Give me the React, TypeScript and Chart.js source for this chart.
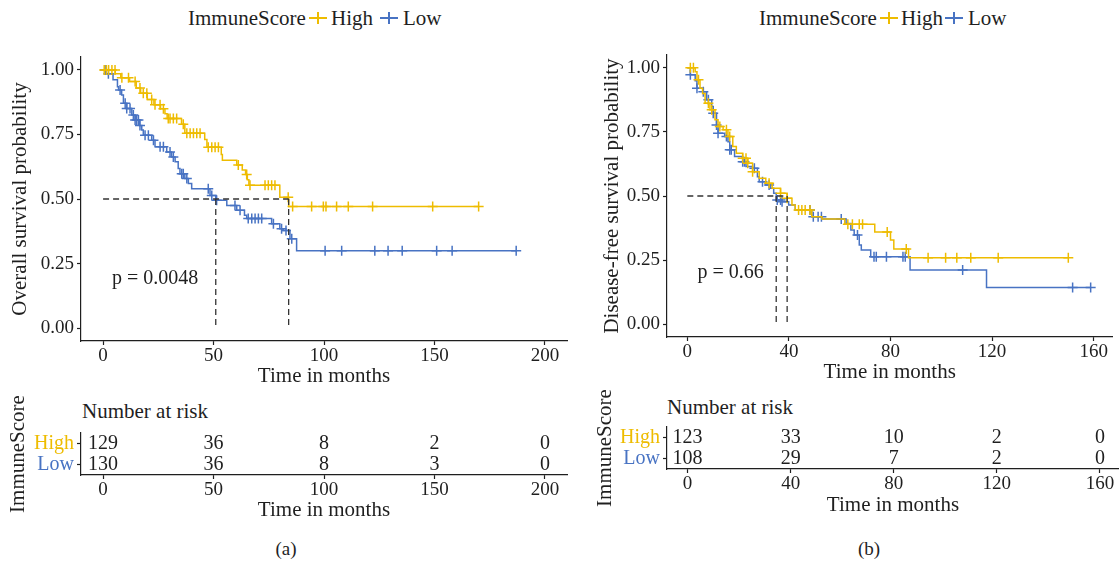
import React, { useEffect, useRef } from 'react';
import { Chart, registerables } from 'chart.js';

Chart.register(...registerables);

const FONT = "'Liberation Serif', 'Times New Roman', Times, serif";
const INK = '#1f1f1f';
const HIGH_COLOR = '#EEBC00';
const LOW_COLOR = '#4873C3';
const GROUPS = ['High', 'Low'];

// ---------- (a) Overall survival ----------
const osHighTimes = [0, 5.5, 8, 12, 15, 17, 20, 23, 26, 28, 29, 35.5, 37, 46, 47, 53.5, 54, 60.5, 63, 64.5, 65.3, 66, 80, 84, 170];
const osHighSurv = [1.0, 0.985, 0.97, 0.955, 0.93, 0.91, 0.885, 0.865, 0.85, 0.83, 0.812, 0.79, 0.755, 0.73, 0.7, 0.672, 0.65, 0.632, 0.612, 0.595, 0.575, 0.553, 0.507, 0.471, 0.471];
const osHighCensor = [0.5, 1.5, 2.5, 4, 5.4, 8.5, 11.5, 14.5, 16.7, 18.2, 19.8, 22, 23.5, 25.8, 27.3, 29.5, 30.3, 31.8, 33.3, 36.3, 37.9, 39.4, 40.9, 42.4, 43.9, 47.6, 49.2, 50.7, 52.2, 61.2, 65, 66.5, 73.3, 74.8, 76.3, 77.8, 83.8, 85.8, 94.4, 99.7, 100.9, 105.7, 111, 122, 149.2, 170];

const osLowTimes = [0, 1, 4.5, 6.5, 7, 8.4, 9.2, 10.7, 13, 14.5, 16.5, 17.5, 18.2, 22, 23.5, 28.8, 31, 32.6, 34, 34.8, 37, 38.6, 40.1, 48.4, 51, 56, 60.5, 64, 65, 76.3, 80, 81.5, 84.6, 87.6, 187];
const osLowSurv = [1.0, 0.985, 0.962, 0.935, 0.922, 0.903, 0.871, 0.851, 0.825, 0.806, 0.785, 0.767, 0.747, 0.728, 0.702, 0.682, 0.663, 0.644, 0.618, 0.598, 0.579, 0.56, 0.54, 0.514, 0.495, 0.475, 0.456, 0.437, 0.424, 0.404, 0.385, 0.378, 0.346, 0.3, 0.3];
const osLowCensor = [0.9, 2.4, 7.7, 10, 10.7, 12.2, 13.7, 14.5, 15.2, 16, 16.7, 19, 20.5, 22.8, 25.8, 27.3, 30.3, 31.8, 35.6, 36.3, 37.9, 47.6, 49.2, 51.4, 59.7, 62, 65.7, 67.3, 68.8, 70.3, 71.8, 77.1, 80.8, 82.8, 85.4, 100.5, 108, 123, 129, 135.4, 151, 158, 187];

const osMedians = [51, 84];
const osTicks = [0, 50, 100, 150, 200];
const osRiskHigh = [129, 36, 8, 2, 0];
const osRiskLow = [130, 36, 8, 3, 0];
const osPText = 'p = 0.0048';

// ---------- (b) Disease-free survival ----------
const dfsHighTimes = [0, 3.1, 3.8, 5, 6, 7, 8.9, 10.9, 12.1, 14.1, 16, 17.9, 19.3, 21.8, 23.8, 25.7, 28.3, 30.9, 33.4, 36.7, 39.3, 41.2, 42.5, 49, 53, 62, 73.8, 80, 81.3, 87.1, 150];
const dfsHighSurv = [1.0, 0.985, 0.953, 0.92, 0.9, 0.862, 0.836, 0.797, 0.771, 0.758, 0.732, 0.693, 0.667, 0.647, 0.628, 0.595, 0.569, 0.55, 0.53, 0.511, 0.491, 0.465, 0.445, 0.419, 0.41, 0.39, 0.36, 0.328, 0.293, 0.259, 0.259];
const dfsHighCensor = [1.2, 2.4, 4.4, 8.3, 9.6, 12.8, 15.4, 16.7, 21.8, 23.1, 23.8, 25.7, 32.2, 36.7, 39.3, 43.8, 45.1, 46.4, 48.3, 63.2, 65, 67.7, 69, 78.7, 86.2, 94.8, 101.7, 106.1, 111.6, 122.4, 150];

const dfsLowTimes = [0, 1.2, 3.1, 3.8, 6.3, 7.6, 9.6, 10.2, 11.5, 12.1, 14.7, 16, 16.7, 18.6, 21.8, 23.1, 25.7, 27.6, 28.3, 30.9, 32.8, 34, 35, 37.3, 39.9, 42.5, 49, 53, 62.5, 64.4, 65.7, 67.7, 68.5, 72.2, 87.7, 117.8, 158.8];
const dfsLowSurv = [1.0, 0.973, 0.95, 0.92, 0.907, 0.875, 0.849, 0.823, 0.777, 0.745, 0.732, 0.712, 0.68, 0.654, 0.634, 0.615, 0.608, 0.575, 0.556, 0.543, 0.53, 0.511, 0.484, 0.478, 0.465, 0.445, 0.419, 0.41, 0.393, 0.367, 0.348, 0.309, 0.289, 0.263, 0.211, 0.143, 0.143];
const dfsLowCensor = [1.2, 3.8, 6.3, 8.3, 10.2, 11.5, 12.1, 15.4, 16.7, 17.3, 21.8, 22.5, 26.4, 29.6, 32.2, 35.4, 36.7, 37.3, 48.3, 49.6, 51.5, 52.8, 60.6, 67, 73.5, 74.4, 78.4, 84.9, 85.8, 108.4, 151.7, 158.8];

const dfsMedians = [35, 39.3];
const dfsTicks = [0, 40, 80, 120, 160];
const dfsRiskHigh = [123, 33, 10, 2, 0];
const dfsRiskLow = [108, 29, 7, 2, 0];
const dfsPText = 'p = 0.66';

const yTicks = [0, 0.25, 0.5, 0.75, 1];

type Curve = { times: number[]; surv: number[]; censor: number[]; color: string };
type Area = { left: number; top: number; right: number; bottom: number };

function survAt(times: number[], surv: number[], t: number) {
  let s = surv[0];
  for (let i = 0; i < times.length; i++) {
    if (times[i] <= t) s = surv[i];
    else break;
  }
  return s;
}

const gridOpts = {
  display: true,
  drawOnChartArea: false,
  drawTicks: true,
  tickLength: 4,
  tickColor: INK,
  tickWidth: 1.2,
  offset: false,
};
const borderOpts = { display: true, color: INK, width: 1.2 };

function KMPlot(props: {
  left: number; top: number; width: number; height: number; area: Area;
  xMin: number; xMax: number; xTicks: number[]; yTitle: string; curves: Curve[];
  medians: number[]; pText: string; pX: number; pY: number; yTitlePad: number; xTitlePad: number;
}) {
  const ref = useRef<HTMLCanvasElement>(null);
  useEffect(() => {
    const p = props;
    const datasets: any[] = [];
    const dash = { showLine: true, borderColor: '#333333', borderWidth: 1.3, borderDash: [6, 4], pointRadius: 0 };
    const medMax = Math.max(...p.medians);
    datasets.push({ ...dash, data: [{ x: 0, y: 0.5 }, { x: medMax, y: 0.5 }] });
    p.medians.forEach((m) => datasets.push({ ...dash, data: [{ x: m, y: 0.5 }, { x: m, y: 0 }] }));
    p.curves.forEach((c) => {
      datasets.push({
        data: c.censor.map((t) => ({ x: t, y: survAt(c.times, c.surv, t) })),
        showLine: false, pointStyle: 'cross', pointRadius: 5, pointBorderWidth: 1.5,
        borderColor: c.color, backgroundColor: c.color,
      });
      datasets.push({
        data: c.times.map((t, i) => ({ x: t, y: c.surv[i] })),
        showLine: true, stepped: true, borderColor: c.color, borderWidth: 1.5, pointRadius: 0,
      });
    });
    const pPlugin = {
      id: 'pval',
      afterDatasetsDraw(chart: any) {
        const ctx = chart.ctx;
        ctx.save();
        ctx.font = `20px ${FONT}`;
        ctx.fillStyle = INK;
        ctx.textAlign = 'left';
        ctx.textBaseline = 'middle';
        ctx.fillText(p.pText, chart.scales.x.getPixelForValue(p.pX), chart.scales.y.getPixelForValue(p.pY));
        ctx.restore();
      },
    };
    const chart = new Chart(ref.current as HTMLCanvasElement, {
      type: 'scatter',
      data: { datasets },
      plugins: [pPlugin],
      options: {
        animation: false,
        responsive: false,
        events: [],
        layout: { padding: { left: 0, top: p.area.top, right: p.width - p.area.right, bottom: 0 } },
        plugins: { legend: { display: false }, tooltip: { enabled: false }, title: { display: false } },
        scales: {
          x: {
            type: 'linear', min: p.xMin, max: p.xMax,
            afterBuildTicks: (s: any) => { s.ticks = p.xTicks.map((v) => ({ value: v })); },
            afterFit: (s: any) => { s.height = p.height - p.area.bottom; },
            ticks: { font: { family: FONT, size: 19 }, color: INK, padding: 0, maxRotation: 0, autoSkip: false },
            grid: gridOpts, border: borderOpts,
            title: { display: true, text: 'Time in months', font: { family: FONT, size: 21 }, color: INK, padding: { top: 0, bottom: p.xTitlePad } },
          },
          y: {
            type: 'linear', min: -0.05, max: 1.05,
            afterBuildTicks: (s: any) => { s.ticks = yTicks.map((v) => ({ value: v })); },
            afterFit: (s: any) => { s.width = p.area.left; },
            ticks: { font: { family: FONT, size: 19 }, color: INK, padding: 3, autoSkip: false, callback: (v: any) => Number(v).toFixed(2) },
            grid: gridOpts, border: borderOpts,
            title: { display: true, text: p.yTitle, font: { family: FONT, size: 21 }, color: INK, padding: { top: p.yTitlePad, bottom: 0 } },
          },
        },
      } as any,
    });
    return () => chart.destroy();
  }, []);
  return (
    <canvas ref={ref} width={props.width} height={props.height}
      style={{ position: 'absolute', left: props.left, top: props.top, width: props.width, height: props.height }} />
  );
}

function RiskTable(props: {
  left: number; top: number; width: number; height: number; area: Area;
  xMin: number; xMax: number; xTicks: number[]; high: number[]; low: number[];
  yTitlePad: number; xTitlePad: number;
}) {
  const ref = useRef<HTMLCanvasElement>(null);
  useEffect(() => {
    const p = props;
    const riskPlugin = {
      id: 'risk',
      afterDatasetsDraw(chart: any) {
        const ctx = chart.ctx;
        ctx.save();
        ctx.font = `20px ${FONT}`;
        ctx.fillStyle = INK;
        ctx.textAlign = 'center';
        ctx.textBaseline = 'middle';
        chart.data.datasets.forEach((ds: any, i: number) => {
          chart.getDatasetMeta(i).data.forEach((pt: any, j: number) => {
            ctx.fillText(String(ds.counts[j]), pt.x, pt.y);
          });
        });
        ctx.restore();
      },
    };
    const chart = new Chart(ref.current as HTMLCanvasElement, {
      type: 'scatter',
      data: {
        datasets: [
          { data: p.xTicks.map((t) => ({ x: t, y: GROUPS[0] })), counts: p.high, pointRadius: 0, showLine: false },
          { data: p.xTicks.map((t) => ({ x: t, y: GROUPS[1] })), counts: p.low, pointRadius: 0, showLine: false },
        ] as any,
      },
      plugins: [riskPlugin],
      options: {
        animation: false,
        responsive: false,
        events: [],
        layout: { padding: { left: 0, top: p.area.top, right: p.width - p.area.right, bottom: 0 } },
        plugins: { legend: { display: false }, tooltip: { enabled: false }, title: { display: false } },
        scales: {
          x: {
            type: 'linear', min: p.xMin, max: p.xMax,
            afterBuildTicks: (s: any) => { s.ticks = p.xTicks.map((v) => ({ value: v })); },
            afterFit: (s: any) => { s.height = p.height - p.area.bottom; },
            ticks: { font: { family: FONT, size: 19 }, color: INK, padding: 0, maxRotation: 0, autoSkip: false },
            grid: gridOpts, border: borderOpts,
            title: { display: true, text: 'Time in months', font: { family: FONT, size: 21 }, color: INK, padding: { top: 0, bottom: p.xTitlePad } },
          },
          y: {
            type: 'category', labels: GROUPS, offset: true,
            afterFit: (s: any) => { s.width = p.area.left; },
            ticks: { font: { family: FONT, size: 20 }, color: (c: any) => (c.index === 0 ? HIGH_COLOR : LOW_COLOR), padding: 3, autoSkip: false },
            grid: gridOpts, border: borderOpts,
            title: { display: true, text: 'ImmuneScore', font: { family: FONT, size: 21 }, color: INK, padding: { top: p.yTitlePad, bottom: 0 } },
          },
        },
      } as any,
    });
    return () => chart.destroy();
  }, []);
  return (
    <canvas ref={ref} width={props.width} height={props.height}
      style={{ position: 'absolute', left: props.left, top: props.top, width: props.width, height: props.height }} />
  );
}

function Label(props: { x: number; y: number; text: string; size?: number; anchor?: 'start' | 'middle'; color?: string }) {
  const tx = props.anchor === 'middle' ? '-50%' : '0';
  return (
    <div style={{
      position: 'absolute', left: props.x, top: props.y, transform: `translate(${tx},-50%)`,
      fontSize: props.size ?? 21, lineHeight: 1, whiteSpace: 'nowrap', color: props.color ?? INK, fontFamily: FONT,
    }}>{props.text}</div>
  );
}

function Key(props: { cx: number; cy: number; color: string }) {
  return (
    <div style={{ position: 'absolute', left: props.cx - 9, top: props.cy - 7, width: 18, height: 14 }}>
      <div style={{ position: 'absolute', left: 0, top: 6.25, width: 18, height: 1.5, background: props.color }} />
      <div style={{ position: 'absolute', left: 8.25, top: 1, width: 1.5, height: 12, background: props.color }} />
    </div>
  );
}

export default function App() {
  const osCurves: Curve[] = [
    { times: osHighTimes, surv: osHighSurv, censor: osHighCensor, color: HIGH_COLOR },
    { times: osLowTimes, surv: osLowSurv, censor: osLowCensor, color: LOW_COLOR },
  ];
  const dfsCurves: Curve[] = [
    { times: dfsHighTimes, surv: dfsHighSurv, censor: dfsHighCensor, color: HIGH_COLOR },
    { times: dfsLowTimes, surv: dfsLowSurv, censor: dfsLowCensor, color: LOW_COLOR },
  ];
  return (
    <div style={{ position: 'absolute', left: 0, top: 0, width: 1119, height: 563, overflow: 'hidden', background: '#ffffff', fontFamily: FONT }}>
      {/* legends */}
      <Label x={188} y={18} text="ImmuneScore" />
      <Key cx={318} cy={18} color={HIGH_COLOR} />
      <Label x={331} y={18} text="High" />
      <Key cx={389} cy={18} color={LOW_COLOR} />
      <Label x={403} y={18} text="Low" />

      <Label x={759} y={18} text="ImmuneScore" />
      <Key cx={889} cy={18} color={HIGH_COLOR} />
      <Label x={901} y={18} text="High" />
      <Key cx={954} cy={18} color={LOW_COLOR} />
      <Label x={968} y={18} text="Low" />

      <KMPlot left={0} top={40} width={580} height={350}
        area={{ left: 81, top: 17, right: 567, bottom: 301 }}
        xMin={-10} xMax={210} xTicks={osTicks} yTitle="Overall survival probability"
        curves={osCurves} medians={osMedians} pText={osPText} pX={4} pY={0.19}
        yTitlePad={8} xTitlePad={1} />

      <KMPlot left={590} top={40} width={529} height={350}
        area={{ left: 77, top: 15, right: 529, bottom: 297 }}
        xMin={-8} xMax={167.4} xTicks={dfsTicks} yTitle="Disease-free survival probability"
        curves={dfsCurves} medians={dfsMedians} pText={dfsPText} pX={4} pY={0.2}
        yTitlePad={10} xTitlePad={5} />

      <Label x={82} y={411} text="Number at risk" />
      <Label x={667} y={407} text="Number at risk" />

      <RiskTable left={0} top={395} width={580} height={140}
        area={{ left: 81, top: 38, right: 567, bottom: 80 }}
        xMin={-10} xMax={210} xTicks={osTicks} high={osRiskHigh} low={osRiskLow}
        yTitlePad={6} xTitlePad={12} />

      <RiskTable left={590} top={390} width={529} height={140}
        area={{ left: 77, top: 37, right: 529, bottom: 79 }}
        xMin={-8} xMax={167.4} xTicks={dfsTicks} high={dfsRiskHigh} low={dfsRiskLow}
        yTitlePad={3} xTitlePad={12} />

      <Label x={286} y={548} text="(a)" size={19} anchor="middle" />
      <Label x={869} y={548} text="(b)" size={19} anchor="middle" />
    </div>
  );
}
